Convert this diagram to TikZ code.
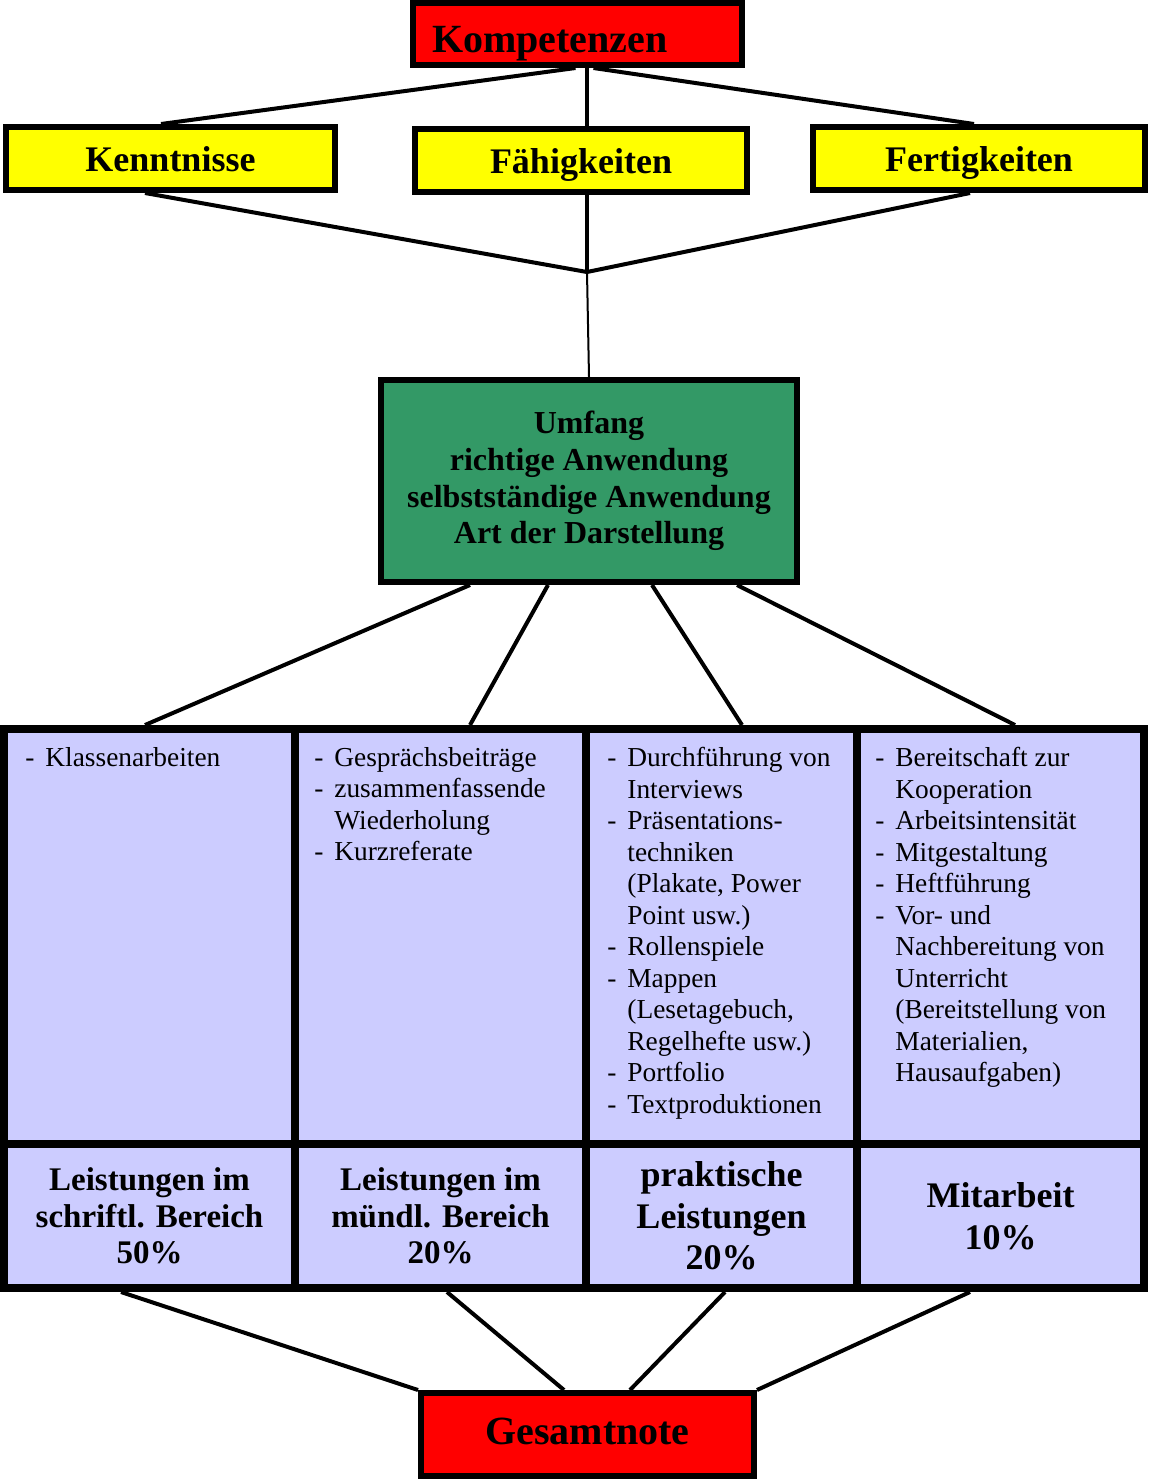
\documentclass[tikz,border=0pt]{standalone}
\usepackage{fontspec}
\setmainfont{Liberation Serif}

\definecolor{boxred}{HTML}{FF0000}
\definecolor{boxyellow}{HTML}{FFFF00}
\definecolor{boxgreen}{HTML}{339966}
\definecolor{cellblue}{HTML}{CCCCFF}

\newcommand{\dashitem}{\makebox[10pt][l]{-}}
\newcommand{\gapitem}{\hspace*{10pt}}

\begin{document}
\begin{tikzpicture}[x=0.5pt, y=-0.5pt,
        box/.style={draw, line width=3pt},
        cell/.style={draw, line width=4pt, fill=cellblue},
        conn/.style={line width=2pt},
        items/.style={anchor=north west, inner sep=0pt, align=left, font=\fontsize{13.7}{15.75}\selectfont}]
        \useasboundingbox (0,0) rectangle (1148,1479);

        \node[box, fill=boxred, minimum width=164.5pt, minimum height=31pt, text width=145.5pt, align=left, inner xsep=9.5pt, text height=18pt, text depth=0pt, font=\bfseries\fontsize{20}{24}\selectfont] (kom) at (577.5,34) {Kompetenzen};

        \node[box, fill=boxyellow, minimum width=164.5pt, minimum height=31.5pt, text height=13pt, text depth=0pt, font=\bfseries\fontsize{18}{22}\selectfont] (kenn) at (170.5,158.5) {Kenntnisse};
        \node[box, fill=boxyellow, minimum width=166pt, minimum height=31.5pt, text height=13pt, text depth=0pt, font=\bfseries\fontsize{18}{22}\selectfont] (fah) at (581,160.5) {Fähigkeiten};
        \node[box, fill=boxyellow, minimum width=166pt, minimum height=31.5pt, text height=13pt, text depth=0pt, font=\bfseries\fontsize{18}{22}\selectfont] (fert) at (979,158.5) {Fertigkeiten};

        \coordinate (j) at (587,272);

        \node[box, fill=boxgreen, minimum width=208pt, minimum height=101pt, align=center, font=\bfseries\fontsize{16}{18.3}\selectfont] (um) at (589,481)
            {Umfang\\richtige Anwendung\\selbstständige Anwendung\\Art der Darstellung};

        \node[cell, minimum width=145.5pt, minimum height=207.5pt] (c1) at (149.5,936.5) {};
        \node[cell, minimum width=145.5pt, minimum height=207.5pt] (c2) at (440.5,936.5) {};
        \node[cell, minimum width=135.5pt, minimum height=207.5pt] (c3) at (721.5,936.5) {};
        \node[cell, minimum width=143.5pt, minimum height=207.5pt] (c4) at (1000.5,936.5) {};

        \node[cell, minimum width=145.5pt, minimum height=72pt, align=center, font=\bfseries\fontsize{16.5}{18.3}\selectfont] (b1) at (149.5,1216)
            {Leistungen im\\schriftl. Bereich\\50\%};
        \node[cell, minimum width=145.5pt, minimum height=72pt, align=center, font=\bfseries\fontsize{16.5}{18.3}\selectfont] (b2) at (440.5,1216)
            {Leistungen im\\mündl. Bereich\\20\%};
        \node[cell, minimum width=135.5pt, minimum height=72pt, align=center, font=\bfseries\fontsize{18}{20.7}\selectfont] (b3) at (721.5,1216)
            {praktische\\Leistungen\\20\%};
        \node[cell, minimum width=143.5pt, minimum height=72pt, align=center, font=\bfseries\fontsize{18}{21}\selectfont] (b4) at (1000.5,1216)
            {Mitarbeit\\10\%};

        \node[items] (t1) at ([xshift=12.5pt,yshift=-11pt]c1.north west) {\dashitem Klassenarbeiten};
        \node[items] (t2) at ([xshift=11.5pt,yshift=-11pt]c2.north west)
            {\dashitem Gesprächsbeiträge\\\dashitem zusammenfassende\\\gapitem Wiederholung\\\dashitem Kurzreferate};
        \node[items] (t3) at ([xshift=12.5pt,yshift=-11pt]c3.north west)
            {\dashitem Durchführung von\\\gapitem Interviews\\\dashitem Präsentations-\\\gapitem techniken\\\gapitem (Plakate, Power\\\gapitem Point usw.)\\\dashitem Rollenspiele\\\dashitem Mappen\\\gapitem (Lesetagebuch,\\\gapitem Regelhefte usw.)\\\dashitem Portfolio\\\dashitem Textproduktionen};
        \node[items] (t4) at ([xshift=11pt,yshift=-11pt]c4.north west)
            {\dashitem Bereitschaft zur\\\gapitem Kooperation\\\dashitem Arbeitsintensität\\\dashitem Mitgestaltung\\\dashitem Heftführung\\\dashitem Vor- und\\\gapitem Nachbereitung von\\\gapitem Unterricht\\\gapitem (Bereitstellung von\\\gapitem Materialien,\\\gapitem Hausaufgaben)};

        \node[box, fill=boxred, minimum width=166.5pt, minimum height=41.5pt, text height=10pt, text depth=0pt, font=\bfseries\fontsize{20}{24}\selectfont] (ges) at (587.5,1434.5) {Gesamtnote};

        \draw[conn] ([xshift=-1pt]kom.south) -- ([xshift=-4.75pt]kenn.north);
        \draw[conn] ([xshift=8pt]kom.south) -- ([xshift=-2.5pt]fert.north);
        \draw[conn] (kom.south -| j) -- (fah.north -| j);

        \draw[conn] ([xshift=-12.75pt]kenn.south) -- (j);
        \draw[conn] (fah.south -| j) -- (j);
        \draw[conn] ([xshift=-4.5pt]fert.south) -- (j);
        \draw[line width=1pt] (j) -- (um.north);

        \draw[conn] ([xshift=-59.5pt]um.south) -- ([xshift=-2.25pt]c1.north);
        \draw[conn] ([xshift=-20.5pt]um.south) -- ([xshift=14.75pt]c2.north);
        \draw[conn] ([xshift=31.5pt]um.south) -- ([xshift=10.25pt]c3.north);
        \draw[conn] ([xshift=74pt]um.south) -- ([xshift=7.25pt]c4.north);

        \draw[conn] ([xshift=-14.25pt]b1.south) -- (ges.north west);
        \draw[conn] ([xshift=3.25pt]b2.south) -- ([xshift=-11.75pt]ges.north);
        \draw[conn] ([xshift=1.75pt]b3.south) -- ([xshift=21.25pt]ges.north);
        \draw[conn] ([xshift=-15.25pt]b4.south) -- (ges.north east);
    \end{tikzpicture}
\end{document}
